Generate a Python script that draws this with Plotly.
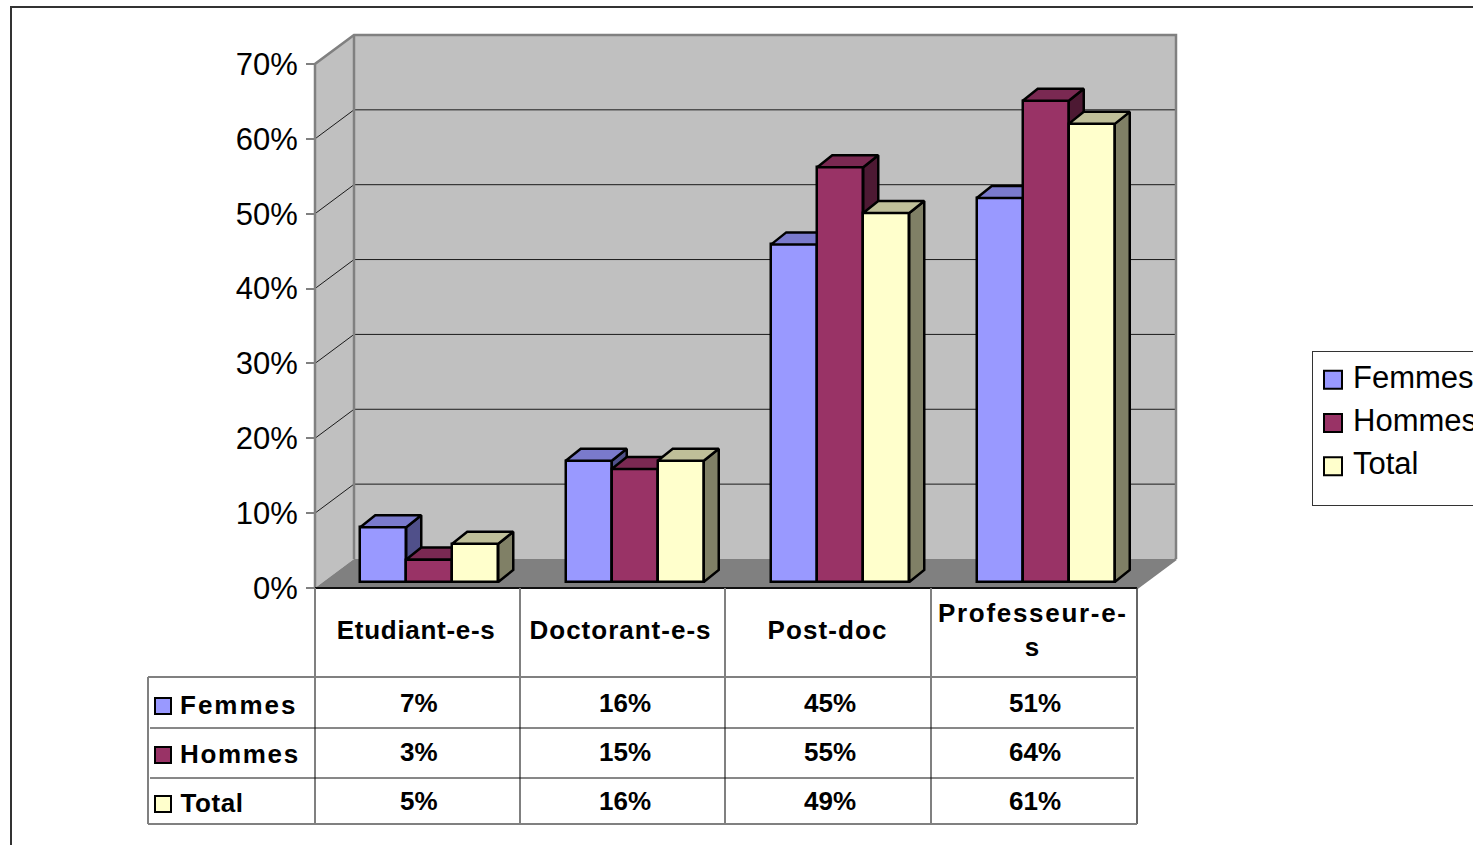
import plotly.graph_objects as go

categories = ["Etudiant-e-s", "Doctorant-e-s", "Post-doc", "Professeur-e-<br>s"]
series_names = ["Femmes", "Hommes", "Total"]
femmes = [7.3, 16.2, 45.1, 51.3]
hommes = [3.0, 15.1, 55.4, 64.3]
total = [5.1, 16.2, 49.3, 61.2]
y_ticks = [0, 10, 20, 30, 40, 50, 60, 70]

W, H = 1473, 845
CAT_PX, PCT_PX = 205.5, 7.486
LEFT_PX, ZERO_PX = 315, 588
X0 = -LEFT_PX / CAT_PX - 0.5
X1 = (W - LEFT_PX) / CAT_PX - 0.5
Y0 = (ZERO_PX - H) / PCT_PX
Y1 = ZERO_PX / PCT_PX

WALL_DX, WALL_DY = 39 / CAT_PX, 29 / PCT_PX
BAR_DX, BAR_DY = 15 / CAT_PX, 12 / PCT_PX
BAR_W = 46 / CAT_PX
BAR_BASE = 6 / PCT_PX
GROUP_SHIFT = 11.5 / CAT_PX
XL, XR = -0.5, 3.5
TOP = 70

FILL = ["#9999FF", "#993366", "#FFFFCC"]
TOPC = ["#7A7ACC", "#7A2952", "#BFBF99"]
SIDE = ["#50508A", "#4D1933", "#808066"]
values = [femmes, hommes, total]


def px(v):
    return v / W


def py(v):
    return 1 - v / H


fig = go.Figure()


def poly(xs, ys, fill, line="#808080", lw=0):
    fig.add_trace(go.Scatter(x=xs, y=ys, mode="lines", fill="toself", fillcolor=fill,
                             line=dict(color=line, width=lw), hoverinfo="skip",
                             showlegend=False, xaxis="x", yaxis="y"))


# walls and floor
poly([XL, XL + WALL_DX, XL + WALL_DX, XL, XL], [0, WALL_DY, TOP + WALL_DY, TOP, 0], "#C0C0C0")
poly([XL + WALL_DX, XR + WALL_DX, XR + WALL_DX, XL + WALL_DX, XL + WALL_DX],
     [WALL_DY, WALL_DY, TOP + WALL_DY, TOP + WALL_DY, WALL_DY], "#C0C0C0")
poly([XL, XR, XR + WALL_DX, XL + WALL_DX, XL], [0, 0, WALL_DY, WALL_DY, 0], "#808080")

# gridlines
gx, gy = [], []
for t in y_ticks[1:-1]:
    gx += [XL, XL + WALL_DX, XR + WALL_DX, None]
    gy += [t, t + WALL_DY, t + WALL_DY, None]
fig.add_trace(go.Scatter(x=gx, y=gy, mode="lines", line=dict(color="#1a1a1a", width=1),
                         hoverinfo="skip", showlegend=False, xaxis="x", yaxis="y"))
# wall outline
fig.add_trace(go.Scatter(
    x=[XL, XL, XL + WALL_DX, XR + WALL_DX, XR + WALL_DX, None, XL + WALL_DX, XL + WALL_DX, None, XR, XR + WALL_DX],
    y=[0, TOP, TOP + WALL_DY, TOP + WALL_DY, WALL_DY, None, TOP + WALL_DY, WALL_DY, None, 0, WALL_DY],
    mode="lines", line=dict(color="#808080", width=2.5), hoverinfo="skip", showlegend=False,
    xaxis="x", yaxis="y"))
# floor edge line
fig.add_trace(go.Scatter(x=[XL, XR], y=[0, 0], mode="lines", line=dict(color="#111111", width=2),
                         hoverinfo="skip", showlegend=False, xaxis="x", yaxis="y"))

# bars: each series on its own overlaid axes so left bars paint under right ones
for s, name in enumerate(series_names):
    ax = str(s + 2)
    offset = GROUP_SHIFT + (s - 1.5) * BAR_W
    fig.add_trace(go.Bar(x=list(range(4)), y=values[s], base=BAR_BASE, width=BAR_W, offset=offset,
                         name=name, legendgroup=name,
                         marker=dict(color=FILL[s], line=dict(color="black", width=2.5)),
                         xaxis="x" + ax, yaxis="y" + ax))
    tx, ty, sx, sy = [], [], [], []
    for i, v in enumerate(values[s]):
        l = i + offset
        r = l + BAR_W
        t = v + BAR_BASE
        tx += [l, r, r + BAR_DX, l + BAR_DX, l, None]
        ty += [t, t, t + BAR_DY, t + BAR_DY, t, None]
        sx += [r, r + BAR_DX, r + BAR_DX, r, r, None]
        sy += [BAR_BASE, BAR_BASE + BAR_DY, t + BAR_DY, t, BAR_BASE, None]
    for xs, ys, c in ((sx, sy, SIDE[s]), (tx, ty, TOPC[s])):
        fig.add_trace(go.Scatter(x=xs, y=ys, mode="lines", fill="toself", fillcolor=c,
                                 line=dict(color="black", width=2.5), hoverinfo="skip",
                                 showlegend=False, xaxis="x" + ax, yaxis="y" + ax))

# data table
shapes = [dict(type="rect", xref="paper", yref="paper", x0=px(11), x1=px(W + 20), y0=py(7), y1=py(H + 20),
               line=dict(color="#333333", width=2), fillcolor="rgba(0,0,0,0)", layer="below")]


def seg(x0, y0, x1, y1, color="#808080", w=2):
    shapes.append(dict(type="line", xref="paper", yref="paper", x0=px(x0), x1=px(x1),
                       y0=py(y0), y1=py(y1), line=dict(color=color, width=w)))


cols = [315, 520, 725, 931]
for c in cols:
    seg(c, 588, c, 824)
seg(1137, 588, 1137, 824, "#333333", 1.5)
seg(148, 677, 148, 824)
seg(148, 677, 1137, 677)
seg(148, 824, 1137, 824)
seg(150, 728, 1134, 728, "#111111", 1)
seg(150, 778, 1134, 778, "#111111", 1)

annotations = []


def label(text, x, y, size=26, anchor="center"):
    annotations.append(dict(text=text, x=px(x), y=py(y), xref="paper", yref="paper", showarrow=False,
                            xanchor=anchor, yanchor="middle", align="center",
                            font=dict(family="Liberation Sans", size=size, color="black", weight="bold")))


for cx, c in zip([416, 620, 827, 1033], categories):
    label(c, cx, 630)
rows = [704, 753, 802]
name_x = [239, 240, 212]
for s, name in enumerate(series_names):
    label(name, name_x[s], rows[s] + 1)
    shapes.append(dict(type="rect", xref="paper", yref="paper", x0=px(155), x1=px(171),
                       y0=py(rows[s] - 6), y1=py(rows[s] + 10),
                       fillcolor=FILL[s], line=dict(color="black", width=2)))
    for cx, v in zip([419, 625, 830, 1035], values[s]):
        label(f"{round(v)}%", cx, rows[s] - 1)

layout = dict(
    width=W, height=H, margin=dict(l=0, r=0, t=0, b=0, pad=0, autoexpand=False), autosize=False,
    paper_bgcolor="white", plot_bgcolor="white", barmode="overlay", bargap=0,
    font=dict(family="Liberation Sans", color="black"),
    shapes=shapes, annotations=annotations, showlegend=True, hovermode=False,
    legend=dict(x=px(1312), y=py(351), xanchor="left", yanchor="top", bgcolor="white",
                bordercolor="#333333", borderwidth=1, font=dict(size=31, color="black"),
                tracegroupgap=8, itemclick=False, itemdoubleclick=False),
    xaxis=dict(range=[X0, X1], visible=False, fixedrange=True),
    yaxis=dict(range=[Y0, Y1], anchor="free", position=px(LEFT_PX), tickvals=y_ticks,
               ticktext=[f"{t}%" for t in y_ticks], ticks="outside", ticklen=9, tickwidth=2,
               tickcolor="#808080", showgrid=False, zeroline=False, showline=False,
               tickfont=dict(size=31, color="black"), fixedrange=True, ticklabelstandoff=2),
)
for n in ("2", "3", "4"):
    layout["xaxis" + n] = dict(range=[X0, X1], visible=False, overlaying="x", fixedrange=True)
    layout["yaxis" + n] = dict(range=[Y0, Y1], visible=False, overlaying="y", fixedrange=True)
fig.update_layout(**layout)

post = """
document.body.style.margin='0';document.body.style.overflow='hidden';
var sp={'Femmes':2,'Hommes':1.7,'Total':0.6,'Etudiant-e-s':0.7,'Doctorant-e-s':1,'Post-doc':1.1,'Professeur-e-s':1.7};
function tidy(){
  document.querySelectorAll('.annotation-text').forEach(function(t){
    var k=t.textContent; if(sp[k]!==undefined){t.style.letterSpacing=sp[k]+'px';}
  });
  document.querySelectorAll('.legend .legendpoints path').forEach(function(p){
    p.setAttribute('d','M9,9H-9V-9H9Z'); p.style.strokeWidth='2px';
  });
  document.querySelectorAll('.legend .legendpoints').forEach(function(p){p.style.transform='translateY(4px)';});
  document.querySelectorAll('.legend .groups').forEach(function(g){g.style.transform='translateY(-3px)';});
  var bg=document.querySelector('.legend .bg');
  if(bg&&!bg.dataset.done){bg.setAttribute('height',parseFloat(bg.getAttribute('height'))-3);bg.dataset.done='1';}
}
tidy();
[0,50,200,500,1000].forEach(function(t){setTimeout(tidy,t);});
"""
fig.write_html("out.html", config={"displayModeBar": False, "responsive": False}, post_script=post)
